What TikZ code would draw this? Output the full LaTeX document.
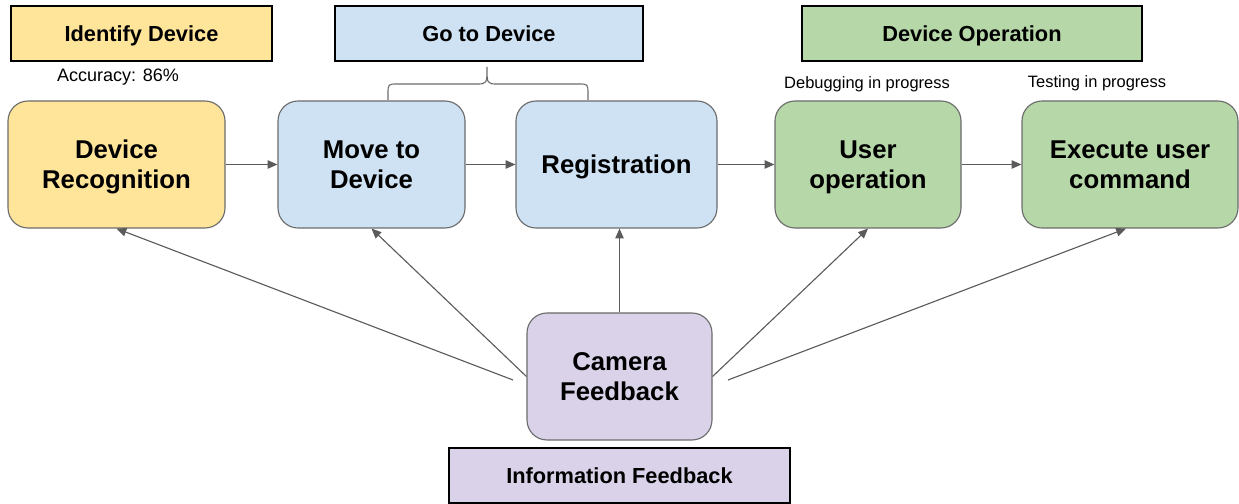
\documentclass[tikz,border=0pt]{standalone}
\usepackage{fontspec}
\setmainfont{Liberation Sans}
\usetikzlibrary{positioning, arrows.meta, calc}

\definecolor{idyellow}{HTML}{FFE599}
\definecolor{goblue}{HTML}{CFE2F3}
\definecolor{opgreen}{HTML}{B6D7A8}
\definecolor{fbpurple}{HTML}{D9D2E9}
\definecolor{edgegray}{HTML}{6B6B6B}
\definecolor{arrowgray}{HTML}{5B5B5B}

% one pixel of the layout
\def\px{0.025cm}

\tikzset{
  stage/.style={draw=edgegray, line width=0.8pt, rounded corners=0.5cm, inner sep=0pt,
    minimum height=127*\px, align=center, text depth=0pt,
    font=\fontsize{18.3}{21.5}\selectfont\bfseries},
  header/.style={draw=black, line width=1.6pt, inner sep=0pt, minimum height=55*\px,
    text depth=0pt, font=\fontsize{15.5}{18}\selectfont\bfseries},
  status/.style={inner sep=0pt, font=\fontsize{11.7}{14}\selectfont},
  flow/.style={draw=arrowgray, line width=0.8pt, -{Triangle[length=7pt,width=6pt]}},
}

\begin{document}
\begin{tikzpicture}[x=\px, y=-\px]
    \useasboundingbox (0,0) rectangle (1239,504);

    % Phase headers
    \node[header, fill=idyellow, minimum width=261*\px] (hid) at (141.5,33.5) {Identify Device};
    \node[header, fill=goblue, minimum width=308*\px] (hgo) at (489,33.5) {Go to Device};
    \node[header, fill=opgreen, minimum width=340*\px] (hop) at (972,33.5) {Device Operation};
    \node[header, fill=fbpurple, minimum width=341*\px] (hinfo) at (619.5,475.5) {Information Feedback};

    % Stages of the pipeline
    \node[stage, fill=idyellow, minimum width=217*\px] (recog) at (116.5,164.5) {Device\\Recognition};
    \node[stage, fill=goblue, minimum width=187*\px] (move) at (371.5,164.5) {Move to\\Device};
    \node[stage, fill=goblue, minimum width=201*\px] (reg) at (616.5,164.5) {Registration};
    \node[stage, fill=opgreen, minimum width=186*\px] (user) at (868,164.5) {User\\operation};
    \node[stage, fill=opgreen, minimum width=216*\px] (exec) at (1130,164.5) {Execute user\\command};
    \node[stage, fill=fbpurple, minimum width=185*\px] (cam) at (619.5,376.5) {Camera\\Feedback};

    % Status notes
    \node[status, font=\fontsize{12.8}{15}\selectfont] (acc) at (118,77) {Accuracy: 86\%};
    \node[status] (debug) at (867,84) {Debugging in progress};
    \node[status] (test) at (1097,83) {Testing in progress};

    % Brace over the two blue stages
    \draw[draw=edgegray, line width=0.8pt] (388,100) -- (388,94) .. controls (388,84) .. (398,84)
        -- (476,84) .. controls (487,84) .. (487,67) .. controls (487,84) .. (498,84)
        -- (578,84) .. controls (588,84) .. (588,94) -- (588,100);

    % Main flow
    \draw[flow] (recog) -- (move);
    \draw[flow] (move) -- (reg);
    \draw[flow] (reg) -- (user);
    \draw[flow] (user) -- (exec);

    % Feedback from the camera
    \coordinate (camL) at (513,380);
    \coordinate (camR) at (728,380);
    \draw[flow] (camL) -- (recog.south);
    \draw[flow] (cam.west) -- (move.south);
    \draw[flow] (cam.north) -- (cam.north |- reg.south);
    \draw[flow] (cam.east) -- (user.south);
    \draw[flow] (camR) -- ([xshift=-4*\px]exec.south);

\end{tikzpicture}
\end{document}
